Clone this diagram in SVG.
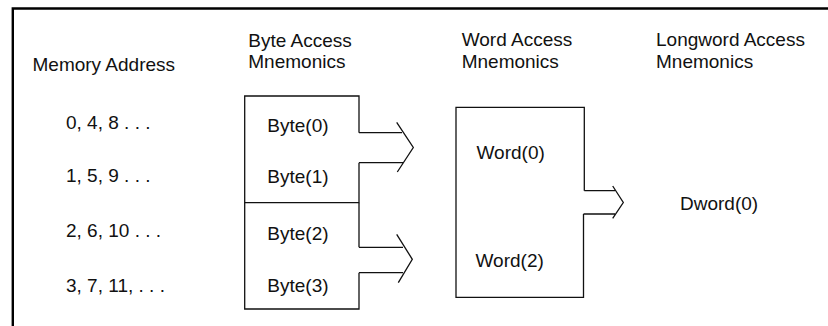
<svg xmlns="http://www.w3.org/2000/svg" width="828" height="326" viewBox="0 0 828 326">
<style>
text{font-family:"Liberation Sans",Arial,sans-serif;font-size:19px;fill:#111}
.ln{fill:none;stroke:#111;stroke-width:1.3}
.frame{fill:none;stroke:#000;stroke-width:2.4}
</style>
<rect width="828" height="326" fill="#fff"/>
<path class="frame" d="M12.8 326 V8.5 H828"/>
<g id="headings">
<text x="32.5" y="70.5">Memory Address</text>
<text x="248.3" y="46.5">Byte Access</text>
<text x="248.3" y="68.3">Mnemonics</text>
<text x="461.7" y="46">Word Access</text>
<text x="461.7" y="67.7">Mnemonics</text>
<text x="656" y="46">Longword Access</text>
<text x="656" y="67.7">Mnemonics</text>
</g>
<g id="addresses">
<text x="66" y="129.3">0, 4, 8 . . .</text>
<text x="66" y="181.7">1, 5, 9 . . .</text>
<text x="66" y="236.7">2, 6, 10 . . .</text>
<text x="66" y="291.7">3, 7, 11, . . .</text>
</g>
<g id="byte01">
<path class="ln" d="M359 132.7 V96 H244.7 V202.7 H359 V162.7"/>
<text x="267.3" y="131.7">Byte(0)</text>
<text x="267.3" y="183.3">Byte(1)</text>
</g>
<g id="byte23">
<path class="ln" d="M359 247.3 V202.7 M359 272.7 V309 H244.7 V202.7"/>
<text x="267.3" y="240">Byte(2)</text>
<text x="267.3" y="291.7">Byte(3)</text>
</g>
<g id="word">
<path class="ln" d="M584.3 190.7 V107.3 H456 V297.3 H583.5 V214"/>
<text x="476.5" y="159">Word(0)</text>
<text x="475.5" y="266.7">Word(2)</text>
</g>
<g id="dword">
<text x="680" y="210">Dword(0)</text>
</g>
<g id="connectors">
<path class="ln" d="M359 132.7 H402 M359 162.7 H403 M396.7 122.3 L413.3 147.5 L397.3 172"/>
<path class="ln" d="M359 247.3 H403 M359 272.7 H403 M396.7 234.3 L412.3 259.3 L398.3 282.7"/>
<path class="ln" d="M584.3 190.7 H615 M583.5 214 H615 M612.7 186 L623.3 202.5 L612.7 218.3"/>
</g>
</svg>
